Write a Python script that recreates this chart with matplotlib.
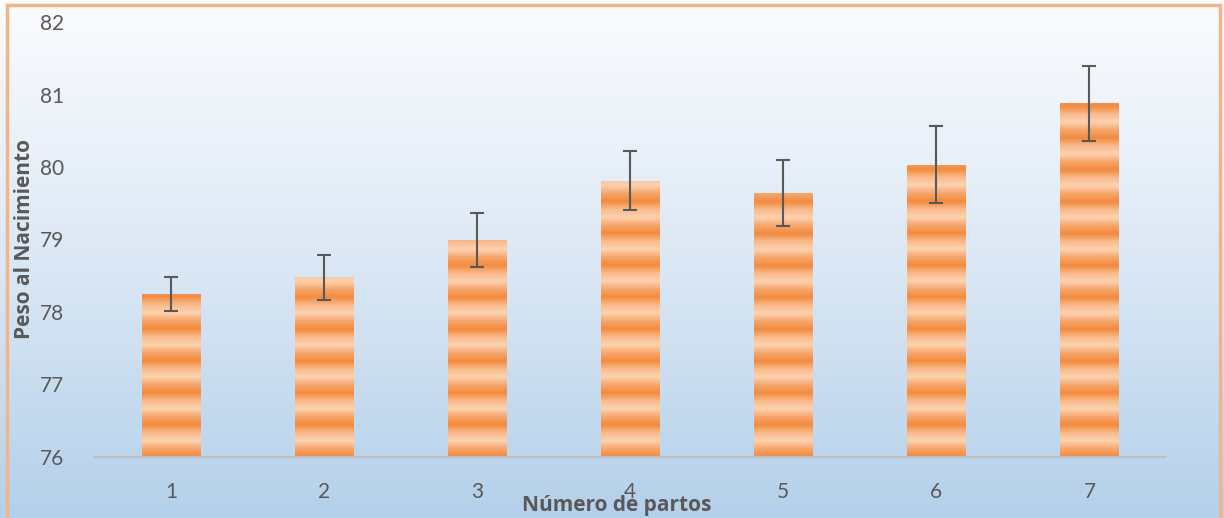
import numpy as np
import matplotlib
matplotlib.use("Agg")
import matplotlib.pyplot as plt
from matplotlib.colors import LinearSegmentedColormap
from matplotlib.patches import Rectangle

categories = ["1", "2", "3", "4", "5", "6", "7"]
values = [78.25, 78.48, 78.99, 79.81, 79.64, 80.03, 80.88]
errors = [0.23, 0.31, 0.37, 0.41, 0.46, 0.53, 0.52]
yticks = [76, 77, 78, 79, 80, 81, 82]

plt.rcParams['font.family'] = ['Lato', 'DejaVu Sans']

fig = plt.figure(figsize=(12.24, 5.18), dpi=100)

# figure background gradient
bg = fig.add_axes([0, 0, 1, 1], zorder=-10)
grad = np.linspace(0, 1, 256).reshape(-1, 1)
bg_cmap = LinearSegmentedColormap.from_list("bg", ["#fbfcfe", "#dce8f5", "#b4d0ea"])
bg.imshow(grad, aspect='auto', cmap=bg_cmap, extent=[0, 1, 0, 1], origin='upper')
bg.set_axis_off()
fig.patches.append(Rectangle((0.006, -0.01), 0.991, 1.0, transform=fig.transFigure,
                             fill=False, edgecolor="#f2b48a", linewidth=2.5))

ax = fig.add_axes([0.0772, 0.1178, 0.8754, 0.8397])
ax.patch.set_alpha(0)
x = np.arange(len(categories))
bars = ax.bar(x, values, width=0.38, bottom=0, color="#f59a55", zorder=2)

# striped fill
stripe_cmap = LinearSegmentedColormap.from_list("st", ["#f28b40", "#f6a66b", "#fcd2b0", "#f9bb8c", "#f28b40"])
ys = np.linspace(0, 1, 600)
period = 0.44
phase = (ys * 6 / period) % 1.0
stripe = phase[::-1].reshape(-1, 1)
for b in bars:
    x0 = b.get_x()
    x1 = x0 + b.get_width()
    im = ax.imshow(stripe, aspect='auto', cmap=stripe_cmap, extent=[x0, x1, 76, 82],
                   origin='upper', zorder=2.5, interpolation='bilinear')
    im.set_clip_path(b)

ax.errorbar(x, values, yerr=errors, fmt='none', ecolor="#595959", elinewidth=1.5,
            capsize=5, capthick=1.5, zorder=4)

ax.set_xlim(-0.5, len(categories) - 0.5)
ax.set_ylim(76, 82)
ax.set_yticks(yticks)
ax.set_yticklabels([str(t) for t in yticks])
ax.set_xticks(x)
ax.set_xticklabels(categories)
for s in ["top", "right", "left"]:
    ax.spines[s].set_visible(False)
ax.spines["bottom"].set_color("#bfbfbf")
ax.spines["bottom"].set_linewidth(1.5)
ax.spines["bottom"].set_zorder(5)
ax.tick_params(axis='both', length=0, labelsize=15, colors="#595959")
ax.tick_params(axis='y', pad=22)
ax.tick_params(axis='x', pad=18)

fig.text(0.504, 0.024, "Número de partos", ha='center', va='center', fontsize=15,
         fontweight='bold', color="#595959", family=['Open Sans', 'DejaVu Sans'])
fig.text(0.020, 0.539, "Peso al Nacimiento", ha='center', va='center', rotation=90,
         fontsize=15, fontweight='bold', color="#595959", family=['Open Sans', 'DejaVu Sans'])

fig.savefig("out.png", dpi=100)
